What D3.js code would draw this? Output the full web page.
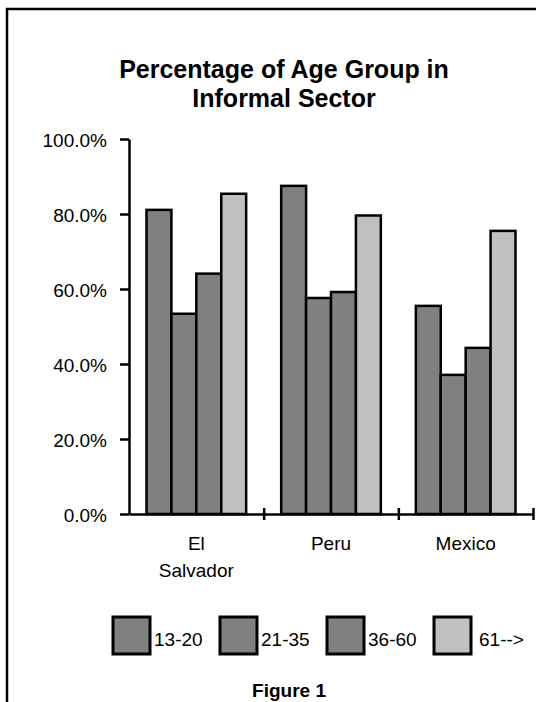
<!DOCTYPE html>
<html>
<head>
<meta charset="utf-8">
<script src="https://cdn.jsdelivr.net/npm/d3@7"></script>
<style>
  body { margin: 0; background: #fff; }
  svg { display: block; font-family: "Liberation Sans", Arial, sans-serif; }
</style>
</head>
<body>
<div class="chart"></div>
<script>
// data
const categories = ["El Salvador", "Peru", "Mexico"];
const categoryLines = [["El", "Salvador"], ["Peru"], ["Mexico"]];
const ageGroups = ["13-20", "21-35", "36-60", "61-->"];
const share13to20 = [0.811, 0.875, 0.555];
const share21to35 = [0.534, 0.576, 0.371];
const share36to60 = [0.641, 0.592, 0.443];
const share61plus = [0.854, 0.796, 0.755];
const yTicks = [0, 0.2, 0.4, 0.6, 0.8, 1.0];

const seriesValues = [share13to20, share21to35, share36to60, share61plus];

const width = 536,
    height = 702;

const plot = { left: 129, right: 533, top: 139, bottom: 514 };

const svg = d3.select(".chart")
    .append("svg")
    .attr("width", width)
    .attr("height", height);

// outer frame (runs off the right and bottom like the scan)
svg.append("rect")
    .attr("x", 7)
    .attr("y", 9)
    .attr("width", 700)
    .attr("height", 900)
    .attr("fill", "none")
    .attr("stroke", "#000")
    .attr("stroke-width", 2.5);

// title
const title = svg.append("text")
    .attr("text-anchor", "middle")
    .attr("font-size", 25)
    .attr("font-weight", "bold");
title.append("tspan").attr("x", 284).attr("y", 78).text("Percentage of Age Group in");
title.append("tspan").attr("x", 284).attr("y", 107).text("Informal Sector");

const x0 = d3.scaleBand()
    .domain(categories)
    .range([plot.left, plot.right])
    .paddingInner(0.26)
    .paddingOuter(0.13);

const x1 = d3.scaleBand()
    .domain(ageGroups)
    .range([0, x0.bandwidth()]);

const y = d3.scaleLinear()
    .domain([0, 1])
    .range([plot.bottom, plot.top]);

const color = d3.scaleOrdinal()
    .domain(ageGroups)
    .range(["#808080", "#808080", "#808080", "#c0c0c0"]);

// bars
const groups = svg.append("g")
    .selectAll("g")
    .data(categories)
    .join("g")
    .attr("transform", d => `translate(${x0(d)},0)`);

groups.selectAll("rect")
    .data((d, i) => ageGroups.map((a, j) => ({ group: a, value: seriesValues[j][i] })))
    .join("rect")
    .attr("x", d => x1(d.group))
    .attr("y", d => y(d.value))
    .attr("width", x1.bandwidth())
    .attr("height", d => y(0) - y(d.value))
    .attr("fill", d => color(d.group))
    .attr("stroke", "#000")
    .attr("stroke-width", 2.5);

// y axis
const yAxis = svg.append("g")
    .attr("transform", `translate(${plot.left},0)`)
    .call(d3.axisLeft(y)
        .tickValues(yTicks)
        .tickFormat(d3.format(".1%"))
        .tickSize(9)
        .tickSizeOuter(0)
        .tickPadding(13));

yAxis.selectAll("text")
    .attr("font-size", 19)
    .attr("fill", "#000")
    .attr("font-family", "Liberation Sans, Arial, sans-serif")
    .attr("dy", "0.38em");
yAxis.selectAll("line").attr("stroke-width", 2.5);
yAxis.select(".domain").attr("stroke-width", 2.5);

// x axis: category labels at band centres
const xAxis = svg.append("g")
    .attr("transform", `translate(0,${plot.bottom})`)
    .call(d3.axisBottom(x0).tickSize(0).tickPadding(22.5));

xAxis.select(".domain").attr("stroke-width", 2.5);
xAxis.selectAll(".tick text")
    .attr("font-size", 19)
    .attr("fill", "#000")
    .attr("font-family", "Liberation Sans, Arial, sans-serif")
    .each(function (d) {
        const lines = categoryLines[categories.indexOf(d)];
        const t = d3.select(this).text(null);
        lines.forEach((line, k) => {
            t.append("tspan")
                .attr("x", 0)
                .attr("dy", k === 0 ? "0.71em" : "27px")
                .text(line);
        });
    });

// cross ticks between categories
const boundary = d3.scaleLinear()
    .domain([0, categories.length])
    .range([plot.left, plot.right]);

const xTicks = svg.append("g")
    .attr("transform", `translate(0,${plot.bottom})`)
    .call(d3.axisBottom(boundary)
        .tickValues(d3.range(1, categories.length + 1))
        .tickFormat("")
        .tickSize(6)
        .tickSizeOuter(0));
xTicks.select(".domain").remove();
xTicks.selectAll("line")
    .attr("y1", -6)
    .attr("stroke-width", 2.5);

// legend
const legendStep = 107;
const legend = svg.append("g")
    .attr("transform", "translate(113,617)")
    .selectAll("g")
    .data(ageGroups)
    .join("g")
    .attr("transform", (d, i) => `translate(${i * legendStep},0)`);

legend.append("rect")
    .attr("width", 37)
    .attr("height", 37)
    .attr("fill", d => color(d))
    .attr("stroke", "#000")
    .attr("stroke-width", 3);

legend.append("text")
    .attr("x", (d, i) => i === 3 ? 45 : 41)
    .attr("y", 29)
    .attr("font-size", 19)
    .text(d => d);

// caption
svg.append("text")
    .attr("x", 289)
    .attr("y", 697)
    .attr("text-anchor", "middle")
    .attr("font-size", 19)
    .attr("font-weight", "bold")
    .text("Figure 1");
</script>
</body>
</html>
